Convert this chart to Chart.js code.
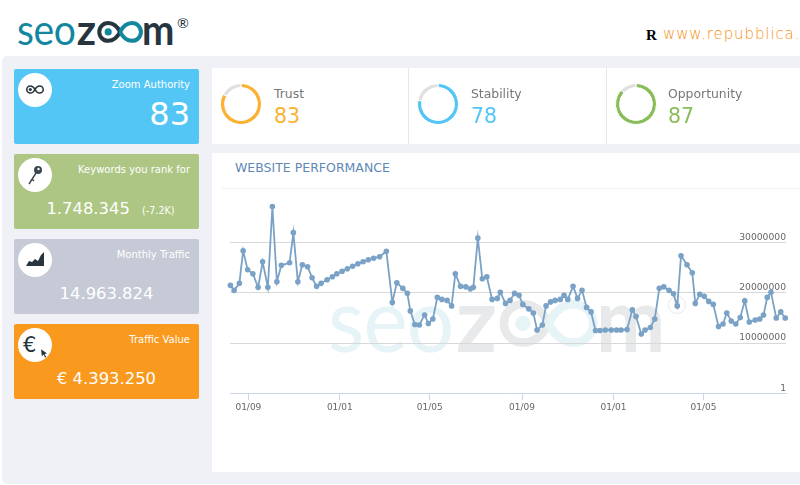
<!DOCTYPE html>
<html>
<head>
<meta charset="utf-8">
<title>seozoom</title>
<script src="https://cdn.jsdelivr.net/npm/chart.js@4/dist/chart.umd.min.js"></script>
<style>
html, body { margin: 0; padding: 0; width: 800px; height: 485px; overflow: hidden; background: #fff; font-family: "DejaVu Sans", sans-serif; }
div, span, canvas, svg { position: absolute; }
.logo { font-family: Lato, sans-serif; font-weight: 400; line-height: 1; --teal: #12879f; --dark: #27353f; width: 4em; height: 1.2em; }
.logo span { top: 0; white-space: nowrap; }
.logo .seo { color: var(--teal); left: 0; letter-spacing: -0.01em; transform-origin: 0 0; transform: scaleX(.93); }
.logo .z { color: var(--dark); left: 1.42em; font-weight: 700; }
.logo .m { color: var(--dark); left: 2.98em; font-weight: 700; transform-origin: 0 0; transform: scaleX(.92); }
.logo svg { left: 1.9em; top: .31em; width: 1.1em; height: .52em; overflow: visible; }
.logo svg .a { stroke: var(--dark); }
.logo svg .b { stroke: var(--teal); }
.logo svg .c { fill: var(--teal); }
.logo .reg { color: var(--dark); left: 11.2em; top: .55em; font-size: .34em; }
#topLogo { left: 17px; top: 8px; font-size: 42px; }
#watermark { left: 328px; top: 272px; font-size: 90px; --teal: #e6f3f7; --dark: #e8e9eb; }
#waterReg { left: 668px; top: 296px; width: 18px; height: 18px; box-sizing: border-box; border: 1px solid #e8e8e8; border-radius: 50%; color: #e4e4e4; font-size: 10px; line-height: 16px; text-align: center; }
#site { left: 663px; top: 25px; color: #f58f10; font-size: 15px; letter-spacing: .9px; font-weight: 300; white-space: nowrap; }
#siteR { left: 646px; top: 27px; color: #000; font: 700 15px "Liberation Serif", serif; }
#bg { left: 2px; top: 56px; width: 810px; height: 428px; background: #f0f1f6; border-radius: 5px; }
.card { left: 14px; width: 185px; height: 75px; border-radius: 2px; color: #fff; }
.circle { left: 4px; top: 4px; width: 34px; height: 34px; background: #fff; border-radius: 50%; }
.cardLabel { right: 9px; top: 9px; font-size: 10px; white-space: nowrap; line-height: 14px; }
.cardValue { left: 0; width: 185px; top: 44px; text-align: center; font-size: 16.4px; line-height: 22px; white-space: nowrap; }
.cardValue small { position: static; font-size: 9.6px; margin-left: 7px; }
#whiteTop { left: 212px; top: 68px; width: 590px; height: 76px; background: #fff; }
.sep { top: 68px; width: 1px; height: 76px; background: #e6e6e6; }
.gaugeLabel { top: 86px; font-size: 12.4px; color: #777; line-height: 16px; }
.gaugeValue { top: 103px; font-size: 20.5px; line-height: 26px; }
#chartPanel { left: 212px; top: 153px; width: 590px; height: 319px; background: #fff; }
#chartTitle { left: 235px; top: 160px; color: #5f88b5; font-size: 12.5px; line-height: 16px; white-space: nowrap; }
#titleLine { left: 222px; top: 188px; width: 578px; height: 1px; background: #f1f1f1; }
</style>
</head>
<body>
<div id="topLogo" class="logo">
  <span class="seo">seo</span><span class="z">z</span>
  <svg viewBox="0 0 46 22"><path class="a" fill="none" stroke-width="4" d="M23 11C20 5 16 2 11 2a9 9 0 0 0 0 18c5 0 9-3 12-9"/><path class="b" fill="none" stroke-width="4" d="M23 11c3-6 7-9 12-9a9 9 0 0 1 0 18c-5 0-9-3-12-9"/><circle class="c" cx="11" cy="11" r="3.6"/></svg>
  <span class="m">m</span><span class="reg">®</span>
</div>
<div id="site">www.repubblica.it</div>
<div id="siteR">R</div>

<div id="bg"></div>

<div class="card" style="top:68.5px;background:#54c6f6">
  <div class="circle"><svg style="left:8px;top:11px" width="18" height="11" viewBox="0 0 46 22"><path fill="none" stroke="#27353f" stroke-width="4" d="M23 11C20 5 16 2 11 2a9 9 0 0 0 0 18c5 0 9-3 12-9c3-6 7-9 12-9a9 9 0 0 1 0 18c-5 0-9-3-12-9"/><circle fill="#27353f" cx="11" cy="11" r="4"/></svg></div>
  <span class="cardLabel" id="c1"></span>
  <span id="c1v" style="right:9px;top:26px;font-size:32px;line-height:38px"></span>
</div>
<div class="card" style="top:153.5px;background:#aec684">
  <div class="circle"><svg style="left:9px;top:7px" width="18" height="21" viewBox="0 0 18 21"><path fill="none" stroke="#3b4750" stroke-width="1.4" d="M9 8L2 19M5 14l2 2"/><circle fill="#3b4750" cx="11" cy="5" r="4"/><circle fill="#fff" cx="11.5" cy="4" r="1.2"/></svg></div>
  <span class="cardLabel" id="c2"></span>
  <div class="cardValue" id="c2v" style="left:4px"></div>
</div>
<div class="card" style="top:238.5px;background:#c5cad6">
  <div class="circle"><svg style="left:8px;top:9px" width="18" height="15" viewBox="0 0 18 15"><path fill="#27353f" d="M0 14L3 9l3 1 3-3 3 2 3-6 3-3v14z"/></svg></div>
  <span class="cardLabel" id="c3"></span>
  <div class="cardValue" id="c3v"></div>
</div>
<div class="card" style="top:323.5px;background:#f9991d">
  <div class="circle"><span style="left:5px;top:3px;color:#27353f;font-size:21px;line-height:28px">€</span><svg style="left:23px;top:21px" width="7" height="9" viewBox="0 0 8 10"><path fill="#27353f" d="M0 0l7 5-3 .5L6 9l-1.5.7L3 6.2 1 8z"/></svg></div>
  <span class="cardLabel" id="c4"></span>
  <div class="cardValue" id="c4v"></div>
</div>

<div id="whiteTop"></div>
<div class="sep" style="left:408px"></div>
<div class="sep" style="left:606px"></div>
<canvas id="g0" width="42" height="42" style="left:220px;top:83px"></canvas>
<canvas id="g1" width="42" height="42" style="left:417px;top:83px"></canvas>
<canvas id="g2" width="42" height="42" style="left:615px;top:83px"></canvas>
<span class="gaugeLabel" id="gl0" style="left:274px"></span>
<span class="gaugeLabel" id="gl1" style="left:471px"></span>
<span class="gaugeLabel" id="gl2" style="left:668px"></span>
<span class="gaugeValue" id="gv0" style="left:274px"></span>
<span class="gaugeValue" id="gv1" style="left:471px"></span>
<span class="gaugeValue" id="gv2" style="left:668px"></span>

<div id="chartPanel"></div>
<div id="chartTitle">WEBSITE PERFORMANCE</div>
<div id="titleLine"></div>
<div id="watermark" class="logo">
  <span class="seo">seo</span><span class="z">z</span>
  <svg viewBox="0 0 46 22"><path class="a" fill="none" stroke-width="4" d="M23 11C20 5 16 2 11 2a9 9 0 0 0 0 18c5 0 9-3 12-9"/><path class="b" fill="none" stroke-width="4" d="M23 11c3-6 7-9 12-9a9 9 0 0 1 0 18c-5 0-9-3-12-9"/><circle class="c" cx="11" cy="11" r="3.6"/></svg>
  <span class="m">m</span>
</div>
<div id="waterReg">R</div>
<canvas id="perf" width="568" height="228" style="left:224px;top:187px"></canvas>

<script>
// days counted from the first 01/09 tick
var days = [-24,-19,-12,-7,-1,6,13,19,26,32,38,44,55,60,66,72,79,85,91,97,105,112,118,125,132,139,146,153,160,167,175,184,192,198,206,212,216,222,228,235,240,246,252,258,265,271,276,283,290,296,300,306,312,318,325,332,336,343,349,355,361,366,374,380,385,392,397,403,409,416,421,426,433,439,445,451,457,463,469,476,484,491,497,505,512,517,524,529,536,542,548,554,561,567,572,577,585,592,596,602,608,614,620,627,633,638,644,650,656,662,668,676,682,687,692,697,704,710,716];
// traffic, millions
var traffic = [21.5,20.5,21.9,28.4,24.6,23.8,21.1,26.2,21.1,37.2,22.2,25.5,26.0,32.0,22.2,25.6,25.2,23.0,21.3,21.9,22.6,23.2,23.8,24.3,24.8,25.3,25.8,26.2,26.6,26.9,27.2,28.3,18.1,22.0,20.9,19.9,16.4,13.7,13.6,15.6,13.9,14.8,19.1,18.7,18.5,17.4,23.8,21.3,21.2,20.8,21.1,30.9,22.8,23.2,18.7,18.9,20.1,17.9,18.5,19.9,19.5,17.7,16.8,16.0,12.6,13.6,17.4,18.2,18.5,18.7,19.5,18.7,21.3,18.9,20.5,17.1,16.2,12.5,12.5,12.6,12.6,12.6,12.6,12.7,16.6,15.3,11.8,12.6,13.1,14.8,20.9,21.2,20.5,19.8,17.4,27.4,25.6,24.0,17.9,19.7,19.3,18.3,17.7,13.3,13.8,16.0,14.4,13.8,15.1,18.4,14.2,14.6,14.8,15.6,19.1,20.1,15.0,16.2,15.0];
var xTickDays = [0,122,242,365,487,607];
var xTickLabels = ['01/09','01/01','01/05','01/09','01/01','01/05'];
var yTicks = [1,10000000,20000000,30000000];

var gaugeNames = ['Trust','Stability','Opportunity'];
var gaugeValues = [83,78,87];
var gaugeColors = ['#f9b233','#53c6f5','#8abd5a'];

document.getElementById('c1').textContent = 'Zoom Authority';
document.getElementById('c1v').textContent = '83';
document.getElementById('c2').textContent = 'Keywords you rank for';
document.getElementById('c2v').innerHTML = '1.748.345 <small>(-7.2K)</small>';
document.getElementById('c3').textContent = 'Monthly Traffic';
document.getElementById('c3v').textContent = '14.963.824';
document.getElementById('c4').textContent = 'Traffic Value';
document.getElementById('c4v').textContent = '€ 4.393.250';

Chart.defaults.font.family = '"DejaVu Sans", sans-serif';

gaugeNames.forEach(function (name, i) {
    document.getElementById('gl' + i).textContent = name;
    var val = document.getElementById('gv' + i);
    val.textContent = gaugeValues[i];
    val.style.color = gaugeColors[i];
    new Chart(document.getElementById('g' + i), {
        type: 'doughnut',
        data: {
            datasets: [{
                data: [gaugeValues[i], 100 - gaugeValues[i]],
                backgroundColor: [gaugeColors[i], '#e0e0e0'],
                borderColor: '#fff',
                borderWidth: 1
            }]
        },
        options: {
            responsive: false,
            animation: false,
            cutout: '80%',
            events: [],
            plugins: { legend: { display: false }, tooltip: { enabled: false } }
        }
    });
});

new Chart(document.getElementById('perf'), {
    type: 'line',
    data: {
        datasets: [{
            data: days.map(function (d, i) { return { x: d, y: traffic[i] * 1000000 }; }),
            borderColor: '#7aa2c6',
            backgroundColor: '#7aa2c6',
            borderWidth: 1.8,
            pointRadius: 2.8,
            pointBorderWidth: 0,
            tension: 0,
            clip: false
        }]
    },
    options: {
        responsive: false,
        animation: false,
        events: [],
        layout: { padding: { left: 6, right: 6 }, autoPadding: false },
        plugins: { legend: { display: false }, tooltip: { enabled: false } },
        scales: {
            x: {
                type: 'linear',
                min: -24.5,
                max: 717,
                afterBuildTicks: function (axis) {
                    axis.ticks = xTickDays.map(function (d) { return { value: d }; });
                },
                grid: { drawOnChartArea: false, color: '#ccd6eb', tickLength: 7 },
                border: { color: '#ccd6eb' },
                ticks: {
                    autoSkip: false,
                    maxRotation: 0,
                    color: '#666',
                    font: { size: 9 },
                    padding: 2,
                    callback: function (value) { return xTickLabels[xTickDays.indexOf(value)]; }
                }
            },
            y: {
                position: 'right',
                min: 1,
                max: 40000000,
                afterBuildTicks: function (axis) {
                    axis.ticks = yTicks.map(function (v) { return { value: v }; });
                },
                grid: { color: '#d8d8d8', drawTicks: false },
                border: { display: false },
                ticks: {
                    mirror: true,
                    color: '#666',
                    font: { size: 9.2 },
                    padding: 0,
                    labelOffset: -5,
                    callback: function (value) { return String(value); }
                }
            }
        }
    }
});
</script>
</body>
</html>
